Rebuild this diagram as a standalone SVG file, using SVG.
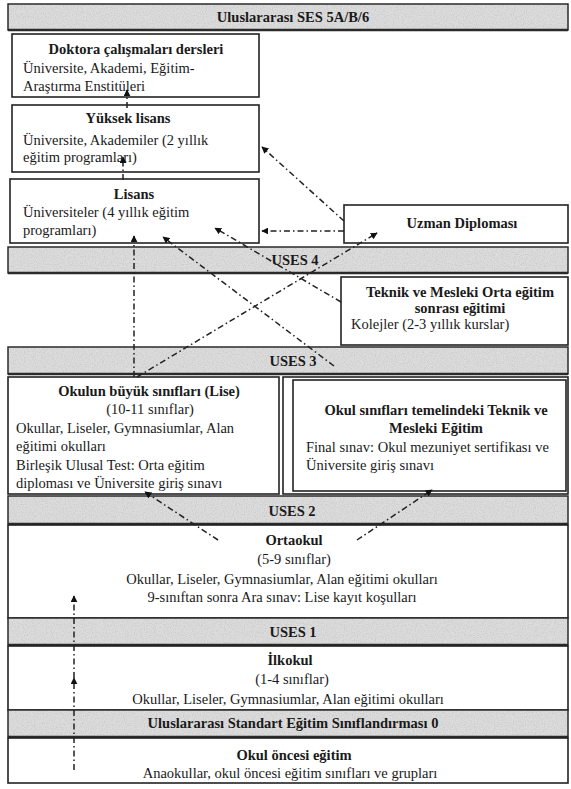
<svg xmlns="http://www.w3.org/2000/svg" width="571" height="789" viewBox="0 0 571 789" font-family="'Liberation Serif', 'DejaVu Serif', serif">
<defs>
<filter id="grain" x="0" y="0" width="100%" height="100%">
<feTurbulence type="fractalNoise" baseFrequency="0.9" numOctaves="2" seed="4" result="n"/>
<feColorMatrix in="n" type="matrix" values="0 0 0 0 0.55  0 0 0 0 0.55  0 0 0 0 0.55  0 0 0 1.8 -0.75"/>
<feComposite in2="SourceGraphic" operator="in"/>
</filter>
<marker id="ah" viewBox="0 0 10 10" refX="9" refY="5" markerWidth="7" markerHeight="7" orient="auto" markerUnits="userSpaceOnUse">
<path d="M0,0 L10,5 L0,10 z" fill="#111"/>
</marker>
<style>
.band{fill:#dcdcdc;stroke:#2a2a2a;stroke-width:1.5}
.tex{fill:#000;filter:url(#grain)}
.bline{stroke:#2a2a2a;stroke-width:2.5}
.box{fill:#fff;stroke:#222;stroke-width:1.6}
text{font-family:"Liberation Serif","DejaVu Serif",serif;font-size:14.5px;fill:#1a1a1a}
.b{font-weight:bold}
.m{text-anchor:middle}
.c{fill:none;stroke:#222;stroke-width:1.5;stroke-dasharray:6 3 1.5 3;marker-end:url(#ah)}
</style>
</defs>
<rect width="571" height="789" fill="#fff"/>

<g id="band-ses56">
<rect class="band" x="8" y="4" width="560" height="26"/>
<rect class="tex" x="9" y="5" width="558" height="24"/>
<line class="bline" x1="8" y1="30" x2="568" y2="30"/>
<text class="b m" x="293" y="22">Uluslararası SES 5A/B/6</text>
</g>

<g id="doktora">
<rect class="box" x="12" y="34" width="247" height="63"/>
<text class="b m" x="136" y="54">Doktora çalışmaları dersleri</text>
<text x="23" y="73">Üniversite, Akademi, Eğitim-</text>
<text x="23" y="91">Araştırma Enstitüleri</text>
</g>

<g id="yuksek-lisans">
<rect class="box" x="12" y="105" width="247" height="67"/>
<text class="b m" x="128" y="123">Yüksek lisans</text>
<text x="23" y="145">Üniversite, Akademiler (2 yıllık</text>
<text x="23" y="162">eğitim programları)</text>
</g>

<g id="lisans">
<rect class="box" x="10" y="179" width="249" height="64"/>
<text class="b m" x="134" y="199">Lisans</text>
<text x="23" y="217">Üniversiteler (4 yıllık eğitim</text>
<text x="23" y="235">programları)</text>
</g>

<g id="uzman">
<rect class="box" x="344" y="205" width="224" height="38"/>
<text class="b m" x="462" y="228">Uzman Diploması</text>
</g>

<g id="band-uses4">
<rect class="band" x="8" y="247" width="560" height="26"/>
<rect class="tex" x="9" y="248" width="558" height="24"/>
<line class="bline" x1="8" y1="273" x2="568" y2="273"/>
<text class="b m" x="295" y="265">USES 4</text>
</g>

<g id="teknik">
<rect class="box" x="341" y="277" width="227" height="68"/>
<text class="b m" x="460" y="297">Teknik ve Mesleki Orta eğitim</text>
<text class="b m" x="460" y="313">sonrası eğitimi</text>
<text x="351" y="329">Kolejler (2-3 yıllık kurslar)</text>
</g>

<g id="band-uses3">
<rect class="band" x="8" y="347" width="560" height="27"/>
<rect class="tex" x="9" y="348" width="558" height="25"/>
<line class="bline" x1="8" y1="374" x2="568" y2="374"/>
<text class="b m" x="293" y="366">USES 3</text>
</g>

<g id="lise">
<rect class="box" x="8" y="377" width="271" height="117"/>
<text class="b m" x="149" y="396">Okulun büyük sınıfları (Lise)</text>
<text class="m" x="150" y="414">(10-11 sınıflar)</text>
<text x="16" y="433">Okullar, Liseler, Gymnasiumlar, Alan</text>
<text x="16" y="451">eğitimi okulları</text>
<text x="16" y="470">Birleşik Ulusal Test: Orta eğitim</text>
<text x="16" y="488">diploması ve Üniversite giriş sınavı</text>
</g>

<g id="teknik-okul">
<rect class="box" x="283" y="377" width="285" height="117"/>
<rect class="box" x="293" y="380" width="273" height="111"/>
<text class="b m" x="436" y="415">Okul sınıfları temelindeki Teknik ve</text>
<text class="b m" x="436" y="433">Mesleki Eğitim</text>
<text x="306" y="452">Final sınav: Okul mezuniyet sertifikası ve</text>
<text x="306" y="470">Üniversite giriş sınavı</text>
</g>

<g id="band-uses2">
<rect class="band" x="8" y="496" width="560" height="28"/>
<rect class="tex" x="9" y="497" width="558" height="26"/>
<line class="bline" x1="8" y1="524" x2="568" y2="524"/>
<text class="b m" x="292" y="516">USES 2</text>
</g>

<g id="ortaokul">
<rect class="box" x="8" y="525" width="560" height="93"/>
<text class="b m" x="294" y="545">Ortaokul</text>
<text class="m" x="294" y="564">(5-9 sınıflar)</text>
<text class="m" x="282" y="584">Okullar, Liseler, Gymnasiumlar, Alan eğitimi okulları</text>
<text class="m" x="282" y="602">9-sınıftan sonra Ara sınav: Lise kayıt koşulları</text>
</g>

<g id="band-uses1">
<rect class="band" x="8" y="618" width="560" height="27"/>
<rect class="tex" x="9" y="619" width="558" height="25"/>
<line class="bline" x1="8" y1="645" x2="568" y2="645"/>
<text class="b m" x="293" y="637">USES 1</text>
</g>

<g id="ilkokul">
<rect class="box" x="8" y="646" width="560" height="64"/>
<text class="b m" x="290" y="665">İlkokul</text>
<text class="m" x="292" y="684">(1-4 sınıflar)</text>
<text class="m" x="288" y="704">Okullar, Liseler, Gymnasiumlar, Alan eğitimi okulları</text>
</g>

<g id="band-ses0">
<rect class="band" x="8" y="710" width="560" height="27"/>
<rect class="tex" x="9" y="711" width="558" height="25"/>
<line class="bline" x1="8" y1="737" x2="568" y2="737"/>
<text class="b m" x="293" y="728">Uluslararası Standart Eğitim Sınıflandırması 0</text>
</g>

<g id="okul-oncesi">
<rect class="box" x="8" y="738" width="560" height="45"/>
<text class="b m" x="294" y="760">Okul öncesi eğitim</text>
<text class="m" x="290" y="778">Anaokullar, okul öncesi eğitim sınıfları ve grupları</text>
</g>

<g id="connectors">
<line class="c" x1="127" y1="108" x2="127" y2="90"/>
<line class="c" x1="123" y1="180" x2="123" y2="157"/>
<line class="c" x1="134" y1="377" x2="134" y2="236"/>
<line class="c" x1="334" y1="366" x2="163" y2="237"/>
<line class="c" x1="137" y1="377" x2="377" y2="233"/>
<line class="c" x1="341" y1="302" x2="215" y2="228"/>
<line class="c" x1="344" y1="221" x2="262" y2="147"/>
<line class="c" x1="344" y1="231" x2="262" y2="231"/>
<line class="c" x1="218" y1="540" x2="145" y2="492"/>
<line class="c" x1="357" y1="540" x2="432" y2="490"/>
<line class="c" x1="74" y1="770" x2="74" y2="678"/>
<line class="c" x1="74" y1="678" x2="74" y2="596"/>
</g>
</svg>
